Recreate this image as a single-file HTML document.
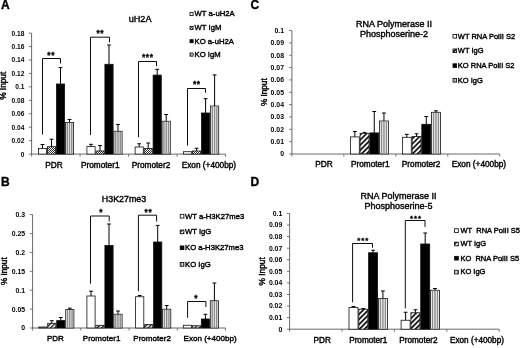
<!DOCTYPE html>
<html><head><meta charset="utf-8"><title>Figure</title>
<style>
html,body{margin:0;padding:0;background:#fff;}
body{width:520px;height:348px;overflow:hidden;font-family:"Liberation Sans",sans-serif;}
svg{display:block;}
svg text{font-family:"Liberation Sans",sans-serif;fill:#000;}
</style></head><body>
<svg width="520" height="348" viewBox="0 0 520 348">
<defs>
<pattern id="chk" width="2" height="2" patternUnits="userSpaceOnUse"><rect width="2" height="2" fill="#fff"/><rect width="1" height="1" fill="#333"/><rect x="1" y="1" width="1" height="1" fill="#333"/></pattern>
<pattern id="vs" width="2.4" height="4" patternUnits="userSpaceOnUse"><rect width="2.4" height="4" fill="#f2f2f2"/><rect x="0.8" width="1" height="4" fill="#666"/></pattern>
<pattern id="dg" width="3" height="3" patternUnits="userSpaceOnUse" patternTransform="rotate(-45)"><rect width="3" height="3" fill="#fff"/><rect width="3" height="1.3" fill="#111"/></pattern>
<pattern id="dgw" width="3.6" height="3.6" patternUnits="userSpaceOnUse" patternTransform="rotate(-45)"><rect width="3.6" height="3.6" fill="#fff"/><rect width="3.6" height="1.7" fill="#111"/></pattern>
<filter id="bl" x="0" y="0" width="100%" height="100%"><feGaussianBlur stdDeviation="0.35"/></filter>
</defs>
<rect width="520" height="348" fill="#fff"/>
<g>

<line x1="31.6" y1="33.1" x2="31.6" y2="154.1" stroke="#444" stroke-width="0.8"/>
<line x1="31.6" y1="154.1" x2="225.5" y2="154.1" stroke="#444" stroke-width="0.8"/>
<line x1="28.8" y1="154.1" x2="31.6" y2="154.1" stroke="#444" stroke-width="0.7"/>
<line x1="28.8" y1="140.65555555555554" x2="31.6" y2="140.65555555555554" stroke="#444" stroke-width="0.7"/>
<line x1="28.8" y1="127.21111111111111" x2="31.6" y2="127.21111111111111" stroke="#444" stroke-width="0.7"/>
<line x1="28.8" y1="113.76666666666665" x2="31.6" y2="113.76666666666665" stroke="#444" stroke-width="0.7"/>
<line x1="28.8" y1="100.32222222222222" x2="31.6" y2="100.32222222222222" stroke="#444" stroke-width="0.7"/>
<line x1="28.8" y1="86.87777777777777" x2="31.6" y2="86.87777777777777" stroke="#444" stroke-width="0.7"/>
<line x1="28.8" y1="73.43333333333332" x2="31.6" y2="73.43333333333332" stroke="#444" stroke-width="0.7"/>
<line x1="28.8" y1="59.98888888888888" x2="31.6" y2="59.98888888888888" stroke="#444" stroke-width="0.7"/>
<line x1="28.8" y1="46.54444444444444" x2="31.6" y2="46.54444444444444" stroke="#444" stroke-width="0.7"/>
<line x1="28.8" y1="33.099999999999994" x2="31.6" y2="33.099999999999994" stroke="#444" stroke-width="0.7"/>
<line x1="31.6" y1="154.1" x2="31.6" y2="156.7" stroke="#444" stroke-width="0.7"/>
<line x1="80.075" y1="154.1" x2="80.075" y2="156.7" stroke="#444" stroke-width="0.7"/>
<line x1="128.55" y1="154.1" x2="128.55" y2="156.7" stroke="#444" stroke-width="0.7"/>
<line x1="177.025" y1="154.1" x2="177.025" y2="156.7" stroke="#444" stroke-width="0.7"/>
<line x1="225.5" y1="154.1" x2="225.5" y2="156.7" stroke="#444" stroke-width="0.7"/>
<rect x="38.4" y="148.4" width="8.2" height="5.7" fill="#fff" stroke="#111" stroke-width="0.8"/>
<line x1="42.5" y1="148.4" x2="42.5" y2="144.5" stroke="#000" stroke-width="1.0"/>
<line x1="40.6" y1="144.5" x2="44.4" y2="144.5" stroke="#000" stroke-width="1"/>
<rect x="47.4" y="146.7" width="8.2" height="7.4" fill="url(#chk)" stroke="#111" stroke-width="0.8"/>
<line x1="51.5" y1="146.7" x2="51.5" y2="139.2" stroke="#000" stroke-width="1.0"/>
<line x1="49.6" y1="139.2" x2="53.4" y2="139.2" stroke="#000" stroke-width="1"/>
<rect x="56.4" y="84" width="8.2" height="70.1" fill="#000" stroke="#111" stroke-width="0.8"/>
<line x1="60.5" y1="84" x2="60.5" y2="67.6" stroke="#000" stroke-width="1.0"/>
<line x1="58.6" y1="67.6" x2="62.4" y2="67.6" stroke="#000" stroke-width="1"/>
<rect x="65.4" y="122.4" width="8.2" height="31.7" fill="#f6f6f6" stroke="#111" stroke-width="0.8"/>
<line x1="67.25" y1="122.8" x2="67.25" y2="153.7" stroke="#8a8a8a" stroke-width="1.4"/>
<line x1="69.5" y1="122.8" x2="69.5" y2="153.7" stroke="#8a8a8a" stroke-width="1.4"/>
<line x1="71.75" y1="122.8" x2="71.75" y2="153.7" stroke="#8a8a8a" stroke-width="1.4"/>
<line x1="69.5" y1="122.4" x2="69.5" y2="119.5" stroke="#000" stroke-width="1.0"/>
<line x1="67.6" y1="119.5" x2="71.4" y2="119.5" stroke="#000" stroke-width="1"/>
<rect x="86.9" y="146.6" width="8.2" height="7.5" fill="#fff" stroke="#111" stroke-width="0.8"/>
<line x1="91.0" y1="146.6" x2="91.0" y2="144.3" stroke="#000" stroke-width="1.0"/>
<line x1="89.1" y1="144.3" x2="92.9" y2="144.3" stroke="#000" stroke-width="1"/>
<rect x="95.9" y="151" width="8.2" height="3.1" fill="url(#chk)" stroke="#111" stroke-width="0.8"/>
<line x1="100.0" y1="151" x2="100.0" y2="145.5" stroke="#000" stroke-width="1.0"/>
<line x1="98.1" y1="145.5" x2="101.9" y2="145.5" stroke="#000" stroke-width="1"/>
<rect x="104.9" y="64.3" width="8.2" height="89.8" fill="#000" stroke="#111" stroke-width="0.8"/>
<line x1="109.0" y1="64.3" x2="109.0" y2="45" stroke="#000" stroke-width="1.0"/>
<line x1="107.1" y1="45" x2="110.9" y2="45" stroke="#000" stroke-width="1"/>
<rect x="113.9" y="131.3" width="8.2" height="22.8" fill="#f6f6f6" stroke="#111" stroke-width="0.8"/>
<line x1="115.75" y1="131.7" x2="115.75" y2="153.7" stroke="#8a8a8a" stroke-width="1.4"/>
<line x1="118.0" y1="131.7" x2="118.0" y2="153.7" stroke="#8a8a8a" stroke-width="1.4"/>
<line x1="120.25" y1="131.7" x2="120.25" y2="153.7" stroke="#8a8a8a" stroke-width="1.4"/>
<line x1="118.0" y1="131.3" x2="118.0" y2="124.4" stroke="#000" stroke-width="1.0"/>
<line x1="116.1" y1="124.4" x2="119.9" y2="124.4" stroke="#000" stroke-width="1"/>
<rect x="135.1" y="147" width="8.2" height="7.1" fill="#fff" stroke="#111" stroke-width="0.8"/>
<line x1="139.2" y1="147" x2="139.2" y2="143.75" stroke="#000" stroke-width="1.0"/>
<line x1="137.29999999999998" y1="143.75" x2="141.1" y2="143.75" stroke="#000" stroke-width="1"/>
<rect x="144.1" y="148.5" width="8.2" height="5.6" fill="url(#chk)" stroke="#111" stroke-width="0.8"/>
<line x1="148.2" y1="148.5" x2="148.2" y2="143" stroke="#000" stroke-width="1.0"/>
<line x1="146.29999999999998" y1="143" x2="150.1" y2="143" stroke="#000" stroke-width="1"/>
<rect x="153.1" y="75.1" width="8.2" height="79.0" fill="#000" stroke="#111" stroke-width="0.8"/>
<line x1="157.2" y1="75.1" x2="157.2" y2="69.3" stroke="#000" stroke-width="1.0"/>
<line x1="155.29999999999998" y1="69.3" x2="159.1" y2="69.3" stroke="#000" stroke-width="1"/>
<rect x="162.1" y="121.25" width="8.2" height="32.85" fill="#f6f6f6" stroke="#111" stroke-width="0.8"/>
<line x1="163.95" y1="121.65" x2="163.95" y2="153.7" stroke="#8a8a8a" stroke-width="1.4"/>
<line x1="166.2" y1="121.65" x2="166.2" y2="153.7" stroke="#8a8a8a" stroke-width="1.4"/>
<line x1="168.45" y1="121.65" x2="168.45" y2="153.7" stroke="#8a8a8a" stroke-width="1.4"/>
<line x1="166.2" y1="121.25" x2="166.2" y2="114.5" stroke="#000" stroke-width="1.0"/>
<line x1="164.29999999999998" y1="114.5" x2="168.1" y2="114.5" stroke="#000" stroke-width="1"/>
<rect x="183.5" y="151.7" width="8.2" height="2.4" fill="#fff" stroke="#111" stroke-width="0.8"/>
<rect x="192.5" y="151" width="8.2" height="3.1" fill="url(#chk)" stroke="#111" stroke-width="0.8"/>
<line x1="196.6" y1="151" x2="196.6" y2="148.25" stroke="#000" stroke-width="1.0"/>
<line x1="194.7" y1="148.25" x2="198.5" y2="148.25" stroke="#000" stroke-width="1"/>
<rect x="201.5" y="113" width="8.2" height="41.1" fill="#000" stroke="#111" stroke-width="0.8"/>
<line x1="205.6" y1="113" x2="205.6" y2="98.7" stroke="#000" stroke-width="1.0"/>
<line x1="203.7" y1="98.7" x2="207.5" y2="98.7" stroke="#000" stroke-width="1"/>
<rect x="210.5" y="106" width="8.2" height="48.1" fill="#f6f6f6" stroke="#111" stroke-width="0.8"/>
<line x1="212.35" y1="106.4" x2="212.35" y2="153.7" stroke="#8a8a8a" stroke-width="1.4"/>
<line x1="214.6" y1="106.4" x2="214.6" y2="153.7" stroke="#8a8a8a" stroke-width="1.4"/>
<line x1="216.85" y1="106.4" x2="216.85" y2="153.7" stroke="#8a8a8a" stroke-width="1.4"/>
<line x1="214.6" y1="106" x2="214.6" y2="74.9" stroke="#000" stroke-width="1.0"/>
<line x1="212.7" y1="74.9" x2="216.5" y2="74.9" stroke="#000" stroke-width="1"/>
<polyline points="42.5,134.5 42.5,58.5 60.5,58.5 60.5,63.5" fill="none" stroke="#000" stroke-width="0.95"/>
<polyline points="90.5,135 90.5,37.2 109.5,37.2 109.5,42.3" fill="none" stroke="#000" stroke-width="0.95"/>
<polyline points="138.5,137.2 138.5,61.5 156.5,61.5 156.5,66.2" fill="none" stroke="#000" stroke-width="0.95"/>
<polyline points="187.5,145.5 187.5,88.5 205.5,88.5 205.5,92.7" fill="none" stroke="#000" stroke-width="0.95"/>
<rect x="190.0" y="12.55" width="3.1" height="3.1" fill="#fff" stroke="#000" stroke-width="0.8"/>
<rect x="190.0" y="26.35" width="3.1" height="3.1" fill="url(#chk)" stroke="#000" stroke-width="0.8"/>
<rect x="190.0" y="39.65" width="3.1" height="3.1" fill="#000" stroke="#000" stroke-width="0.8"/>
<rect x="190.0" y="53.05" width="3.1" height="3.1" fill="url(#vs)" stroke="#000" stroke-width="0.8"/>
<line x1="32.6" y1="214.6" x2="32.6" y2="328" stroke="#444" stroke-width="0.8"/>
<line x1="32.6" y1="328" x2="225.5" y2="328" stroke="#444" stroke-width="0.8"/>
<line x1="29.8" y1="328.0" x2="32.6" y2="328.0" stroke="#444" stroke-width="0.7"/>
<line x1="29.8" y1="309.1" x2="32.6" y2="309.1" stroke="#444" stroke-width="0.7"/>
<line x1="29.8" y1="290.2" x2="32.6" y2="290.2" stroke="#444" stroke-width="0.7"/>
<line x1="29.8" y1="271.3" x2="32.6" y2="271.3" stroke="#444" stroke-width="0.7"/>
<line x1="29.8" y1="252.39999999999998" x2="32.6" y2="252.39999999999998" stroke="#444" stroke-width="0.7"/>
<line x1="29.8" y1="233.5" x2="32.6" y2="233.5" stroke="#444" stroke-width="0.7"/>
<line x1="29.8" y1="214.59999999999997" x2="32.6" y2="214.59999999999997" stroke="#444" stroke-width="0.7"/>
<line x1="32.6" y1="328" x2="32.6" y2="330.6" stroke="#444" stroke-width="0.7"/>
<line x1="80.825" y1="328" x2="80.825" y2="330.6" stroke="#444" stroke-width="0.7"/>
<line x1="129.05" y1="328" x2="129.05" y2="330.6" stroke="#444" stroke-width="0.7"/>
<line x1="177.275" y1="328" x2="177.275" y2="330.6" stroke="#444" stroke-width="0.7"/>
<line x1="225.5" y1="328" x2="225.5" y2="330.6" stroke="#444" stroke-width="0.7"/>
<rect x="38.7" y="327" width="8.2" height="1" fill="#fff" stroke="#111" stroke-width="0.8"/>
<rect x="47.7" y="323.3" width="8.2" height="4.7" fill="url(#dg)" stroke="#111" stroke-width="0.8"/>
<line x1="51.8" y1="323.3" x2="51.8" y2="320.7" stroke="#000" stroke-width="1.0"/>
<line x1="49.9" y1="320.7" x2="53.699999999999996" y2="320.7" stroke="#000" stroke-width="1"/>
<rect x="56.7" y="320.6" width="8.2" height="7.4" fill="#000" stroke="#111" stroke-width="0.8"/>
<line x1="60.8" y1="320.6" x2="60.8" y2="317.5" stroke="#000" stroke-width="1.0"/>
<line x1="58.9" y1="317.5" x2="62.699999999999996" y2="317.5" stroke="#000" stroke-width="1"/>
<rect x="65.7" y="309.6" width="8.2" height="18.4" fill="#f6f6f6" stroke="#111" stroke-width="0.8"/>
<line x1="67.55" y1="310.0" x2="67.55" y2="327.6" stroke="#8a8a8a" stroke-width="1.4"/>
<line x1="69.8" y1="310.0" x2="69.8" y2="327.6" stroke="#8a8a8a" stroke-width="1.4"/>
<line x1="72.05" y1="310.0" x2="72.05" y2="327.6" stroke="#8a8a8a" stroke-width="1.4"/>
<line x1="69.8" y1="309.6" x2="69.8" y2="308.2" stroke="#000" stroke-width="1.0"/>
<line x1="67.89999999999999" y1="308.2" x2="71.7" y2="308.2" stroke="#000" stroke-width="1"/>
<rect x="86.9" y="296" width="8.2" height="32" fill="#fff" stroke="#111" stroke-width="0.8"/>
<line x1="91.0" y1="296" x2="91.0" y2="291.2" stroke="#000" stroke-width="1.0"/>
<line x1="89.1" y1="291.2" x2="92.9" y2="291.2" stroke="#000" stroke-width="1"/>
<rect x="95.9" y="325.3" width="8.2" height="2.7" fill="url(#dg)" stroke="#111" stroke-width="0.8"/>
<rect x="104.9" y="245.4" width="8.2" height="82.6" fill="#000" stroke="#111" stroke-width="0.8"/>
<line x1="109.0" y1="245.4" x2="109.0" y2="224" stroke="#000" stroke-width="1.0"/>
<line x1="107.1" y1="224" x2="110.9" y2="224" stroke="#000" stroke-width="1"/>
<rect x="113.9" y="314.25" width="8.2" height="13.75" fill="#f6f6f6" stroke="#111" stroke-width="0.8"/>
<line x1="115.75" y1="314.65" x2="115.75" y2="327.6" stroke="#8a8a8a" stroke-width="1.4"/>
<line x1="118.0" y1="314.65" x2="118.0" y2="327.6" stroke="#8a8a8a" stroke-width="1.4"/>
<line x1="120.25" y1="314.65" x2="120.25" y2="327.6" stroke="#8a8a8a" stroke-width="1.4"/>
<line x1="118.0" y1="314.25" x2="118.0" y2="311" stroke="#000" stroke-width="1.0"/>
<line x1="116.1" y1="311" x2="119.9" y2="311" stroke="#000" stroke-width="1"/>
<rect x="135.6" y="296.75" width="8.2" height="31.25" fill="#fff" stroke="#111" stroke-width="0.8"/>
<line x1="139.7" y1="296.75" x2="139.7" y2="295.5" stroke="#000" stroke-width="1.0"/>
<line x1="137.79999999999998" y1="295.5" x2="141.6" y2="295.5" stroke="#000" stroke-width="1"/>
<rect x="144.6" y="324.6" width="8.2" height="3.4" fill="url(#dg)" stroke="#111" stroke-width="0.8"/>
<rect x="153.6" y="242" width="8.2" height="86" fill="#000" stroke="#111" stroke-width="0.8"/>
<line x1="157.7" y1="242" x2="157.7" y2="225.4" stroke="#000" stroke-width="1.0"/>
<line x1="155.79999999999998" y1="225.4" x2="159.6" y2="225.4" stroke="#000" stroke-width="1"/>
<rect x="162.6" y="309.25" width="8.2" height="18.75" fill="#f6f6f6" stroke="#111" stroke-width="0.8"/>
<line x1="164.45" y1="309.65" x2="164.45" y2="327.6" stroke="#8a8a8a" stroke-width="1.4"/>
<line x1="166.7" y1="309.65" x2="166.7" y2="327.6" stroke="#8a8a8a" stroke-width="1.4"/>
<line x1="168.95" y1="309.65" x2="168.95" y2="327.6" stroke="#8a8a8a" stroke-width="1.4"/>
<line x1="166.7" y1="309.25" x2="166.7" y2="305.5" stroke="#000" stroke-width="1.0"/>
<line x1="164.79999999999998" y1="305.5" x2="168.6" y2="305.5" stroke="#000" stroke-width="1"/>
<rect x="183.3" y="325.25" width="8.2" height="2.75" fill="#fff" stroke="#111" stroke-width="0.8"/>
<rect x="192.3" y="325.75" width="8.2" height="2.25" fill="url(#dg)" stroke="#111" stroke-width="0.8"/>
<rect x="201.3" y="319" width="8.2" height="9" fill="#000" stroke="#111" stroke-width="0.8"/>
<line x1="205.4" y1="319" x2="205.4" y2="314.25" stroke="#000" stroke-width="1.0"/>
<line x1="203.5" y1="314.25" x2="207.3" y2="314.25" stroke="#000" stroke-width="1"/>
<rect x="210.3" y="300.7" width="8.2" height="27.3" fill="#f6f6f6" stroke="#111" stroke-width="0.8"/>
<line x1="212.15" y1="301.1" x2="212.15" y2="327.6" stroke="#8a8a8a" stroke-width="1.4"/>
<line x1="214.4" y1="301.1" x2="214.4" y2="327.6" stroke="#8a8a8a" stroke-width="1.4"/>
<line x1="216.65" y1="301.1" x2="216.65" y2="327.6" stroke="#8a8a8a" stroke-width="1.4"/>
<line x1="214.4" y1="300.7" x2="214.4" y2="283" stroke="#000" stroke-width="1.0"/>
<line x1="212.5" y1="283" x2="216.3" y2="283" stroke="#000" stroke-width="1"/>
<polyline points="90.5,283.7 90.5,216.0 109.2,216.0 109.2,221.5" fill="none" stroke="#000" stroke-width="0.95"/>
<polyline points="138.4,291.2 138.4,215.2 156.6,215.2 156.6,221.5" fill="none" stroke="#000" stroke-width="0.95"/>
<polyline points="187.6,317.8 187.6,301.5 205.9,301.5 205.9,307" fill="none" stroke="#000" stroke-width="0.95"/>
<rect x="180.2" y="214.35" width="3.7" height="3.7" fill="#fff" stroke="#000" stroke-width="0.8"/>
<rect x="180.2" y="230.05" width="3.7" height="3.7" fill="url(#dg)" stroke="#000" stroke-width="0.8"/>
<rect x="180.2" y="245.95" width="3.7" height="3.7" fill="#000" stroke="#000" stroke-width="0.8"/>
<rect x="180.2" y="262.55" width="3.7" height="3.7" fill="url(#vs)" stroke="#000" stroke-width="0.8"/>
<line x1="291.9" y1="30.55" x2="291.9" y2="154.0" stroke="#444" stroke-width="0.8"/>
<line x1="291.9" y1="154.0" x2="499.7" y2="154.0" stroke="#444" stroke-width="0.8"/>
<line x1="289.09999999999997" y1="154.0" x2="291.9" y2="154.0" stroke="#444" stroke-width="0.7"/>
<line x1="289.09999999999997" y1="141.655" x2="291.9" y2="141.655" stroke="#444" stroke-width="0.7"/>
<line x1="289.09999999999997" y1="129.31" x2="291.9" y2="129.31" stroke="#444" stroke-width="0.7"/>
<line x1="289.09999999999997" y1="116.965" x2="291.9" y2="116.965" stroke="#444" stroke-width="0.7"/>
<line x1="289.09999999999997" y1="104.62" x2="291.9" y2="104.62" stroke="#444" stroke-width="0.7"/>
<line x1="289.09999999999997" y1="92.275" x2="291.9" y2="92.275" stroke="#444" stroke-width="0.7"/>
<line x1="289.09999999999997" y1="79.92999999999999" x2="291.9" y2="79.92999999999999" stroke="#444" stroke-width="0.7"/>
<line x1="289.09999999999997" y1="67.58500000000001" x2="291.9" y2="67.58500000000001" stroke="#444" stroke-width="0.7"/>
<line x1="289.09999999999997" y1="55.239999999999995" x2="291.9" y2="55.239999999999995" stroke="#444" stroke-width="0.7"/>
<line x1="289.09999999999997" y1="42.89500000000001" x2="291.9" y2="42.89500000000001" stroke="#444" stroke-width="0.7"/>
<line x1="289.09999999999997" y1="30.549999999999997" x2="291.9" y2="30.549999999999997" stroke="#444" stroke-width="0.7"/>
<line x1="291.9" y1="154.0" x2="291.9" y2="156.6" stroke="#444" stroke-width="0.7"/>
<line x1="343.84999999999997" y1="154.0" x2="343.84999999999997" y2="156.6" stroke="#444" stroke-width="0.7"/>
<line x1="395.79999999999995" y1="154.0" x2="395.79999999999995" y2="156.6" stroke="#444" stroke-width="0.7"/>
<line x1="447.75" y1="154.0" x2="447.75" y2="156.6" stroke="#444" stroke-width="0.7"/>
<line x1="499.7" y1="154.0" x2="499.7" y2="156.6" stroke="#444" stroke-width="0.7"/>
<rect x="350.4" y="136.9" width="8.9" height="17.1" fill="#fff" stroke="#111" stroke-width="0.8"/>
<line x1="354.85" y1="136.9" x2="354.85" y2="131.5" stroke="#000" stroke-width="1.0"/>
<line x1="352.95000000000005" y1="131.5" x2="356.75" y2="131.5" stroke="#000" stroke-width="1"/>
<rect x="360.1" y="133.3" width="8.9" height="20.7" fill="url(#dgw)" stroke="#111" stroke-width="0.8"/>
<line x1="364.55" y1="133.3" x2="364.55" y2="132.4" stroke="#000" stroke-width="1.0"/>
<line x1="362.65000000000003" y1="132.4" x2="366.45" y2="132.4" stroke="#000" stroke-width="1"/>
<rect x="369.8" y="132.9" width="8.9" height="21.1" fill="#000" stroke="#111" stroke-width="0.8"/>
<line x1="374.25" y1="132.9" x2="374.25" y2="111.5" stroke="#000" stroke-width="1.0"/>
<line x1="372.35" y1="111.5" x2="376.15" y2="111.5" stroke="#000" stroke-width="1"/>
<rect x="379.5" y="121" width="8.9" height="33.0" fill="#f6f6f6" stroke="#111" stroke-width="0.8"/>
<line x1="381.53" y1="121.4" x2="381.53" y2="153.6" stroke="#8a8a8a" stroke-width="1.4"/>
<line x1="383.95" y1="121.4" x2="383.95" y2="153.6" stroke="#8a8a8a" stroke-width="1.4"/>
<line x1="386.38" y1="121.4" x2="386.38" y2="153.6" stroke="#8a8a8a" stroke-width="1.4"/>
<line x1="383.95" y1="121" x2="383.95" y2="113" stroke="#000" stroke-width="1.0"/>
<line x1="382.05" y1="113" x2="385.84999999999997" y2="113" stroke="#000" stroke-width="1"/>
<rect x="402.4" y="137.3" width="8.9" height="16.7" fill="#fff" stroke="#111" stroke-width="0.8"/>
<line x1="406.85" y1="137.3" x2="406.85" y2="134.3" stroke="#000" stroke-width="1.0"/>
<line x1="404.95000000000005" y1="134.3" x2="408.75" y2="134.3" stroke="#000" stroke-width="1"/>
<rect x="412.1" y="136.5" width="8.9" height="17.5" fill="url(#dgw)" stroke="#111" stroke-width="0.8"/>
<line x1="416.55" y1="136.5" x2="416.55" y2="133.8" stroke="#000" stroke-width="1.0"/>
<line x1="414.65000000000003" y1="133.8" x2="418.45" y2="133.8" stroke="#000" stroke-width="1"/>
<rect x="421.8" y="124.3" width="8.9" height="29.7" fill="#000" stroke="#111" stroke-width="0.8"/>
<line x1="426.25" y1="124.3" x2="426.25" y2="116.5" stroke="#000" stroke-width="1.0"/>
<line x1="424.35" y1="116.5" x2="428.15" y2="116.5" stroke="#000" stroke-width="1"/>
<rect x="431.5" y="112.3" width="8.9" height="41.7" fill="#f6f6f6" stroke="#111" stroke-width="0.8"/>
<line x1="433.53" y1="112.7" x2="433.53" y2="153.6" stroke="#8a8a8a" stroke-width="1.4"/>
<line x1="435.95" y1="112.7" x2="435.95" y2="153.6" stroke="#8a8a8a" stroke-width="1.4"/>
<line x1="438.38" y1="112.7" x2="438.38" y2="153.6" stroke="#8a8a8a" stroke-width="1.4"/>
<line x1="435.95" y1="112.3" x2="435.95" y2="110.8" stroke="#000" stroke-width="1.0"/>
<line x1="434.05" y1="110.8" x2="437.84999999999997" y2="110.8" stroke="#000" stroke-width="1"/>
<rect x="453.0" y="34.5" width="3.6" height="3.6" fill="#fff" stroke="#000" stroke-width="0.8"/>
<rect x="453.0" y="49.0" width="3.6" height="3.6" fill="url(#dgw)" stroke="#000" stroke-width="0.8"/>
<rect x="453.0" y="63.8" width="3.6" height="3.6" fill="#000" stroke="#000" stroke-width="0.8"/>
<rect x="453.0" y="78.5" width="3.6" height="3.6" fill="url(#vs)" stroke="#000" stroke-width="0.8"/>
<line x1="289.6" y1="213.5" x2="289.6" y2="329.2" stroke="#444" stroke-width="0.8"/>
<line x1="289.6" y1="329.2" x2="499.2" y2="329.2" stroke="#444" stroke-width="0.8"/>
<line x1="286.8" y1="329.2" x2="289.6" y2="329.2" stroke="#444" stroke-width="0.7"/>
<line x1="286.8" y1="317.63" x2="289.6" y2="317.63" stroke="#444" stroke-width="0.7"/>
<line x1="286.8" y1="306.06" x2="289.6" y2="306.06" stroke="#444" stroke-width="0.7"/>
<line x1="286.8" y1="294.49" x2="289.6" y2="294.49" stroke="#444" stroke-width="0.7"/>
<line x1="286.8" y1="282.92" x2="289.6" y2="282.92" stroke="#444" stroke-width="0.7"/>
<line x1="286.8" y1="271.34999999999997" x2="289.6" y2="271.34999999999997" stroke="#444" stroke-width="0.7"/>
<line x1="286.8" y1="259.78" x2="289.6" y2="259.78" stroke="#444" stroke-width="0.7"/>
<line x1="286.8" y1="248.21" x2="289.6" y2="248.21" stroke="#444" stroke-width="0.7"/>
<line x1="286.8" y1="236.64" x2="289.6" y2="236.64" stroke="#444" stroke-width="0.7"/>
<line x1="286.8" y1="225.07" x2="289.6" y2="225.07" stroke="#444" stroke-width="0.7"/>
<line x1="286.8" y1="213.5" x2="289.6" y2="213.5" stroke="#444" stroke-width="0.7"/>
<line x1="289.6" y1="329.2" x2="289.6" y2="331.8" stroke="#444" stroke-width="0.7"/>
<line x1="342.0" y1="329.2" x2="342.0" y2="331.8" stroke="#444" stroke-width="0.7"/>
<line x1="394.4" y1="329.2" x2="394.4" y2="331.8" stroke="#444" stroke-width="0.7"/>
<line x1="446.8" y1="329.2" x2="446.8" y2="331.8" stroke="#444" stroke-width="0.7"/>
<line x1="499.2" y1="329.2" x2="499.2" y2="331.8" stroke="#444" stroke-width="0.7"/>
<rect x="349.0" y="307.5" width="9.0" height="21.7" fill="#fff" stroke="#111" stroke-width="0.8"/>
<line x1="353.5" y1="307.5" x2="353.5" y2="306.5" stroke="#000" stroke-width="1.0"/>
<line x1="351.6" y1="306.5" x2="355.4" y2="306.5" stroke="#000" stroke-width="1"/>
<rect x="358.8" y="309.25" width="9.0" height="19.95" fill="url(#dgw)" stroke="#111" stroke-width="0.8"/>
<line x1="363.3" y1="309.25" x2="363.3" y2="308.5" stroke="#000" stroke-width="1.0"/>
<line x1="361.40000000000003" y1="308.5" x2="365.2" y2="308.5" stroke="#000" stroke-width="1"/>
<rect x="368.6" y="252.75" width="9.0" height="76.45" fill="#000" stroke="#111" stroke-width="0.8"/>
<line x1="373.1" y1="252.75" x2="373.1" y2="250.25" stroke="#000" stroke-width="1.0"/>
<line x1="371.20000000000005" y1="250.25" x2="375.0" y2="250.25" stroke="#000" stroke-width="1"/>
<rect x="378.4" y="298.5" width="9.0" height="30.7" fill="#f6f6f6" stroke="#111" stroke-width="0.8"/>
<line x1="380.45" y1="298.9" x2="380.45" y2="328.8" stroke="#8a8a8a" stroke-width="1.4"/>
<line x1="382.9" y1="298.9" x2="382.9" y2="328.8" stroke="#8a8a8a" stroke-width="1.4"/>
<line x1="385.35" y1="298.9" x2="385.35" y2="328.8" stroke="#8a8a8a" stroke-width="1.4"/>
<line x1="382.9" y1="298.5" x2="382.9" y2="291" stroke="#000" stroke-width="1.0"/>
<line x1="381.0" y1="291" x2="384.79999999999995" y2="291" stroke="#000" stroke-width="1"/>
<rect x="401.1" y="320.25" width="9.0" height="8.95" fill="#fff" stroke="#111" stroke-width="0.8"/>
<line x1="405.6" y1="320.25" x2="405.6" y2="312.25" stroke="#000" stroke-width="1.0"/>
<line x1="403.70000000000005" y1="312.25" x2="407.5" y2="312.25" stroke="#000" stroke-width="1"/>
<rect x="410.9" y="312.75" width="9.0" height="16.45" fill="url(#dgw)" stroke="#111" stroke-width="0.8"/>
<line x1="415.4" y1="312.75" x2="415.4" y2="309.75" stroke="#000" stroke-width="1.0"/>
<line x1="413.5" y1="309.75" x2="417.29999999999995" y2="309.75" stroke="#000" stroke-width="1"/>
<rect x="420.7" y="244" width="9.0" height="85.2" fill="#000" stroke="#111" stroke-width="0.8"/>
<line x1="425.2" y1="244" x2="425.2" y2="233" stroke="#000" stroke-width="1.0"/>
<line x1="423.3" y1="233" x2="427.09999999999997" y2="233" stroke="#000" stroke-width="1"/>
<rect x="430.5" y="290.25" width="9.0" height="38.95" fill="#f6f6f6" stroke="#111" stroke-width="0.8"/>
<line x1="432.55" y1="290.65" x2="432.55" y2="328.8" stroke="#8a8a8a" stroke-width="1.4"/>
<line x1="435.0" y1="290.65" x2="435.0" y2="328.8" stroke="#8a8a8a" stroke-width="1.4"/>
<line x1="437.45" y1="290.65" x2="437.45" y2="328.8" stroke="#8a8a8a" stroke-width="1.4"/>
<line x1="435.0" y1="290.25" x2="435.0" y2="288.5" stroke="#000" stroke-width="1.0"/>
<line x1="433.1" y1="288.5" x2="436.9" y2="288.5" stroke="#000" stroke-width="1"/>
<polyline points="352.6,302.25 352.6,243.5 372.5,243.5 372.5,247.7" fill="none" stroke="#000" stroke-width="0.95"/>
<polyline points="405.3,308.3 405.3,220.5 425,220.5 425,226.9" fill="none" stroke="#000" stroke-width="0.95"/>
<rect x="454.6" y="228.75" width="3.7" height="3.7" fill="#fff" stroke="#000" stroke-width="0.8"/>
<rect x="454.6" y="242.15" width="3.7" height="3.7" fill="url(#dgw)" stroke="#000" stroke-width="0.8"/>
<rect x="454.6" y="256.35" width="3.7" height="3.7" fill="#000" stroke="#000" stroke-width="0.8"/>
<rect x="454.6" y="270.25" width="3.7" height="3.7" fill="url(#vs)" stroke="#000" stroke-width="0.8"/>
</g>
<g filter="url(#bl)">
<text x="0.9" y="9.0" font-size="12" text-anchor="start" font-weight="bold" stroke="#000" stroke-width="0.35">A</text>
<text x="140.1" y="22.1" font-size="9.1" text-anchor="middle" font-weight="normal" stroke="#000" stroke-width="0.4">uH2A</text>
<text transform="translate(5.8,85.8) rotate(-90)" font-size="8.25" text-anchor="middle" stroke="#000" stroke-width="0.4">% Input</text>
<text x="24.4" y="156.5" font-size="6.6" text-anchor="end" font-weight="bold" >0</text>
<text x="24.4" y="143.06" font-size="6.6" text-anchor="end" font-weight="bold" >0.02</text>
<text x="24.4" y="129.61" font-size="6.6" text-anchor="end" font-weight="bold" >0.04</text>
<text x="24.4" y="116.17" font-size="6.6" text-anchor="end" font-weight="bold" >0.06</text>
<text x="24.4" y="102.72" font-size="6.6" text-anchor="end" font-weight="bold" >0.08</text>
<text x="24.4" y="89.28" font-size="6.6" text-anchor="end" font-weight="bold" >0.1</text>
<text x="24.4" y="75.83" font-size="6.6" text-anchor="end" font-weight="bold" >0.12</text>
<text x="24.4" y="62.39" font-size="6.6" text-anchor="end" font-weight="bold" >0.14</text>
<text x="24.4" y="48.94" font-size="6.6" text-anchor="end" font-weight="bold" >0.16</text>
<text x="24.4" y="35.5" font-size="6.6" text-anchor="end" font-weight="bold" >0.18</text>
<text x="54" y="168" font-size="8.25" text-anchor="middle" font-weight="normal" stroke="#000" stroke-width="0.4">PDR</text>
<text x="100.3" y="168" font-size="8.25" text-anchor="middle" font-weight="normal" stroke="#000" stroke-width="0.4">Promoter1</text>
<text x="151" y="168" font-size="8.25" text-anchor="middle" font-weight="normal" stroke="#000" stroke-width="0.4">Promoter2</text>
<text x="208.9" y="168" font-size="8.25" text-anchor="middle" font-weight="normal" stroke="#000" stroke-width="0.4">Exon (+400bp)</text>
<text x="51.25" y="58.2" font-size="8.3" text-anchor="middle" font-weight="bold" stroke="#000" stroke-width="0.3" letter-spacing="0.7">**</text>
<text x="100.35" y="36" font-size="8.3" text-anchor="middle" font-weight="bold" stroke="#000" stroke-width="0.3" letter-spacing="0.7">**</text>
<text x="147.85" y="60.2" font-size="8.3" text-anchor="middle" font-weight="bold" stroke="#000" stroke-width="0.3" letter-spacing="0.7">***</text>
<text x="196.85" y="87.3" font-size="8.3" text-anchor="middle" font-weight="bold" stroke="#000" stroke-width="0.3" letter-spacing="0.7">**</text>
<text x="194.6" y="16.45" font-size="7.7" text-anchor="start" font-weight="normal" stroke="#000" stroke-width="0.4">WT a-uH2A</text>
<text x="194.6" y="30.25" font-size="7.7" text-anchor="start" font-weight="normal" stroke="#000" stroke-width="0.4">WT IgM</text>
<text x="194.6" y="43.55" font-size="7.7" text-anchor="start" font-weight="normal" stroke="#000" stroke-width="0.4">KO a-uH2A</text>
<text x="194.6" y="56.95" font-size="7.7" text-anchor="start" font-weight="normal" stroke="#000" stroke-width="0.4">KO IgM</text>
<text x="0.9" y="185.9" font-size="12" text-anchor="start" font-weight="bold" stroke="#000" stroke-width="0.35">B</text>
<text x="124" y="201.7" font-size="8.9" text-anchor="middle" font-weight="normal" stroke="#000" stroke-width="0.4">H3K27me3</text>
<text transform="translate(7.4,271.2) rotate(-90)" font-size="8.2" text-anchor="middle" stroke="#000" stroke-width="0.4">% Input</text>
<text x="25.1" y="330.4" font-size="6.9" text-anchor="end" font-weight="bold" >0</text>
<text x="25.1" y="311.5" font-size="6.9" text-anchor="end" font-weight="bold" >0.05</text>
<text x="25.1" y="292.6" font-size="6.9" text-anchor="end" font-weight="bold" >0.1</text>
<text x="25.1" y="273.7" font-size="6.9" text-anchor="end" font-weight="bold" >0.15</text>
<text x="25.1" y="254.8" font-size="6.9" text-anchor="end" font-weight="bold" >0.2</text>
<text x="25.1" y="235.9" font-size="6.9" text-anchor="end" font-weight="bold" >0.25</text>
<text x="25.1" y="217.0" font-size="6.9" text-anchor="end" font-weight="bold" >0.3</text>
<text x="55.4" y="341.3" font-size="8.05" text-anchor="middle" font-weight="normal" stroke="#000" stroke-width="0.4">PDR</text>
<text x="101.6" y="341.3" font-size="8.05" text-anchor="middle" font-weight="normal" stroke="#000" stroke-width="0.4">Promoter1</text>
<text x="152.1" y="341.3" font-size="8.05" text-anchor="middle" font-weight="normal" stroke="#000" stroke-width="0.4">Promoter2</text>
<text x="210.1" y="341.3" font-size="8.05" text-anchor="middle" font-weight="normal" stroke="#000" stroke-width="0.4">Exon (+400bp)</text>
<text x="101.1" y="214.5" font-size="8.3" text-anchor="middle" font-weight="bold" stroke="#000" stroke-width="0.3" letter-spacing="0.7">*</text>
<text x="148.55" y="215.4" font-size="8.3" text-anchor="middle" font-weight="bold" stroke="#000" stroke-width="0.3" letter-spacing="0.7">**</text>
<text x="196.3" y="300.7" font-size="8.3" text-anchor="middle" font-weight="bold" stroke="#000" stroke-width="0.3" letter-spacing="0.7">*</text>
<text x="185.0" y="218.55" font-size="7.7" text-anchor="start" font-weight="normal" stroke="#000" stroke-width="0.4">WT a-H3K27me3</text>
<text x="185.0" y="234.25" font-size="7.7" text-anchor="start" font-weight="normal" stroke="#000" stroke-width="0.4">WT IgG</text>
<text x="185.0" y="250.15" font-size="7.7" text-anchor="start" font-weight="normal" stroke="#000" stroke-width="0.4">KO a-H3K27me3</text>
<text x="185.0" y="266.75" font-size="7.7" text-anchor="start" font-weight="normal" stroke="#000" stroke-width="0.4">KO IgG</text>
<text x="250.4" y="8.6" font-size="12" text-anchor="start" font-weight="bold" stroke="#000" stroke-width="0.35">C</text>
<text x="394" y="27" font-size="9" text-anchor="middle" font-weight="normal" stroke="#000" stroke-width="0.4">RNA Polymerase II</text>
<text x="394" y="36.5" font-size="9" text-anchor="middle" font-weight="normal" stroke="#000" stroke-width="0.4">Phosphoserine-2</text>
<text transform="translate(266.7,92.2) rotate(-90)" font-size="8.2" text-anchor="middle" stroke="#000" stroke-width="0.4">% Input</text>
<text x="284.0" y="156.4" font-size="6.9" text-anchor="end" font-weight="bold" >0</text>
<text x="284.0" y="144.06" font-size="6.9" text-anchor="end" font-weight="bold" >0.01</text>
<text x="284.0" y="131.71" font-size="6.9" text-anchor="end" font-weight="bold" >0.02</text>
<text x="284.0" y="119.37" font-size="6.9" text-anchor="end" font-weight="bold" >0.03</text>
<text x="284.0" y="107.02" font-size="6.9" text-anchor="end" font-weight="bold" >0.04</text>
<text x="284.0" y="94.68" font-size="6.9" text-anchor="end" font-weight="bold" >0.05</text>
<text x="284.0" y="82.33" font-size="6.9" text-anchor="end" font-weight="bold" >0.06</text>
<text x="284.0" y="69.99" font-size="6.9" text-anchor="end" font-weight="bold" >0.07</text>
<text x="284.0" y="57.64" font-size="6.9" text-anchor="end" font-weight="bold" >0.08</text>
<text x="284.0" y="45.3" font-size="6.9" text-anchor="end" font-weight="bold" >0.09</text>
<text x="284.0" y="32.95" font-size="6.9" text-anchor="end" font-weight="bold" >0.1</text>
<text x="324" y="167" font-size="8.25" text-anchor="middle" font-weight="normal" stroke="#000" stroke-width="0.4">PDR</text>
<text x="370.3" y="167" font-size="8.25" text-anchor="middle" font-weight="normal" stroke="#000" stroke-width="0.4">Promoter1</text>
<text x="421.1" y="167" font-size="8.25" text-anchor="middle" font-weight="normal" stroke="#000" stroke-width="0.4">Promoter2</text>
<text x="478.9" y="167" font-size="8.25" text-anchor="middle" font-weight="normal" stroke="#000" stroke-width="0.4">Exon (+400bp)</text>
<text x="457.8" y="38.65" font-size="7.5" text-anchor="start" font-weight="normal" stroke="#000" stroke-width="0.4">WT RNA PolII S2</text>
<text x="457.8" y="53.15" font-size="7.5" text-anchor="start" font-weight="normal" stroke="#000" stroke-width="0.4">WT IgG</text>
<text x="457.8" y="67.95" font-size="7.5" text-anchor="start" font-weight="normal" stroke="#000" stroke-width="0.4">KO RNA PolII S2</text>
<text x="457.8" y="82.65" font-size="7.5" text-anchor="start" font-weight="normal" stroke="#000" stroke-width="0.4">KO IgG</text>
<text x="250.5" y="185.9" font-size="12" text-anchor="start" font-weight="bold" stroke="#000" stroke-width="0.35">D</text>
<text x="398.5" y="198.5" font-size="9" text-anchor="middle" font-weight="normal" stroke="#000" stroke-width="0.4">RNA Polymerase II</text>
<text x="398.5" y="209.2" font-size="9" text-anchor="middle" font-weight="normal" stroke="#000" stroke-width="0.4">Phosphoserine-5</text>
<text transform="translate(265.2,271.4) rotate(-90)" font-size="8.4" text-anchor="middle" stroke="#000" stroke-width="0.4">% Input</text>
<text x="282.3" y="331.6" font-size="6.9" text-anchor="end" font-weight="bold" >0</text>
<text x="282.3" y="320.03" font-size="6.9" text-anchor="end" font-weight="bold" >0.01</text>
<text x="282.3" y="308.46" font-size="6.9" text-anchor="end" font-weight="bold" >0.02</text>
<text x="282.3" y="296.89" font-size="6.9" text-anchor="end" font-weight="bold" >0.03</text>
<text x="282.3" y="285.32" font-size="6.9" text-anchor="end" font-weight="bold" >0.04</text>
<text x="282.3" y="273.75" font-size="6.9" text-anchor="end" font-weight="bold" >0.05</text>
<text x="282.3" y="262.18" font-size="6.9" text-anchor="end" font-weight="bold" >0.06</text>
<text x="282.3" y="250.61" font-size="6.9" text-anchor="end" font-weight="bold" >0.07</text>
<text x="282.3" y="239.04" font-size="6.9" text-anchor="end" font-weight="bold" >0.08</text>
<text x="282.3" y="227.47" font-size="6.9" text-anchor="end" font-weight="bold" >0.09</text>
<text x="282.3" y="215.9" font-size="6.9" text-anchor="end" font-weight="bold" >0.1</text>
<text x="322.2" y="343.1" font-size="8.2" text-anchor="middle" font-weight="normal" stroke="#000" stroke-width="0.4">PDR</text>
<text x="368.3" y="343.1" font-size="8.2" text-anchor="middle" font-weight="normal" stroke="#000" stroke-width="0.4">Promoter1</text>
<text x="418.4" y="343.1" font-size="8.2" text-anchor="middle" font-weight="normal" stroke="#000" stroke-width="0.4">Promoter2</text>
<text x="477" y="343.1" font-size="8.2" text-anchor="middle" font-weight="normal" stroke="#000" stroke-width="0.4">Exon (+400bp)</text>
<text x="363.23" y="242.5" font-size="7.8" text-anchor="middle" font-weight="bold" stroke="#000" stroke-width="0.3" letter-spacing="0.95">***</text>
<text x="415.93" y="220.5" font-size="7.8" text-anchor="middle" font-weight="bold" stroke="#000" stroke-width="0.3" letter-spacing="0.95">***</text>
<text x="460.4" y="232.95" font-size="7.5" text-anchor="start" font-weight="normal" stroke="#000" stroke-width="0.4">WT&#160; RNA PolII S5</text>
<text x="460.4" y="246.35" font-size="7.5" text-anchor="start" font-weight="normal" stroke="#000" stroke-width="0.4">WT IgG</text>
<text x="460.4" y="260.55" font-size="7.5" text-anchor="start" font-weight="normal" stroke="#000" stroke-width="0.4">KO&#160; RNA PolII S5</text>
<text x="460.4" y="274.45" font-size="7.5" text-anchor="start" font-weight="normal" stroke="#000" stroke-width="0.4">KO IgG</text>
</g></svg></body></html>
